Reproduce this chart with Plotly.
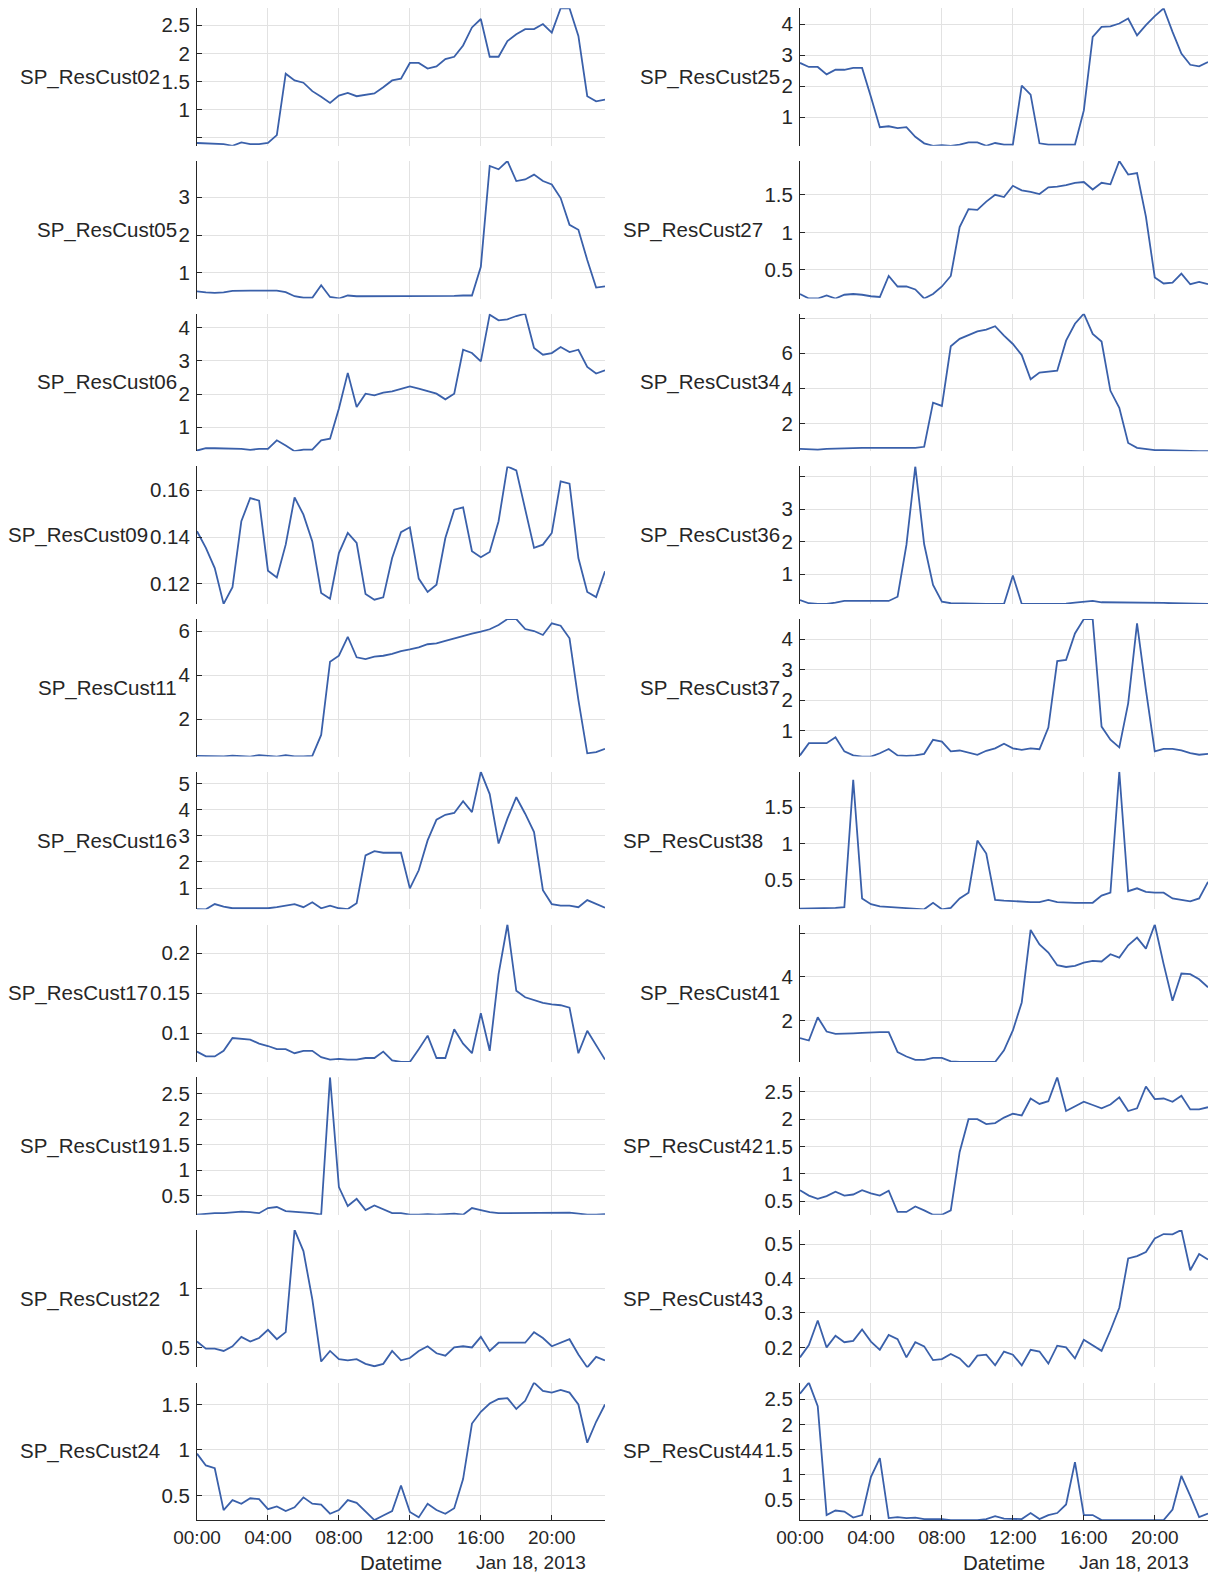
import pandas as pd
import plotly.graph_objects as go

# ---------------- data ----------------
DATE = "2013-01-18"
N_POINTS = 47
times = pd.date_range(f"{DATE} 00:00", periods=N_POINTS, freq="30min")

XTICK_LABELS = ["00:00", "04:00", "08:00", "12:00", "16:00", "20:00"]
X_TITLE = "Datetime"
DATE_LABEL = "Jan 18, 2013"

SP_ResCust02 = [0.41, 0.40, 0.40, 0.39, 0.36, 0.42, 0.39, 0.39, 0.41, 0.55,
                1.64, 1.52, 1.48, 1.33, 1.23, 1.12, 1.25, 1.30, 1.24, 1.27,
                1.29, 1.40, 1.52, 1.55, 1.83, 1.83, 1.73, 1.77, 1.90, 1.94,
                2.14, 2.46, 2.61, 1.94, 1.94, 2.22, 2.34, 2.43, 2.43, 2.52,
                2.37, 2.80, 2.80, 2.31, 1.24, 1.15, 1.18]
SP_ResCust05 = [0.51, 0.48, 0.47, 0.48, 0.52, 0.53, 0.53, 0.53, 0.53, 0.53,
                0.49, 0.38, 0.34, 0.34, 0.67, 0.36, 0.32, 0.40, 0.38, 0.38,
                0.37, 0.37, 0.37, 0.37, 0.37, 0.37, 0.37, 0.38, 0.38, 0.39,
                0.40, 0.40, 1.16, 3.83, 3.74, 3.96, 3.43, 3.47, 3.60, 3.43,
                3.34, 2.98, 2.27, 2.14, 1.34, 0.61, 0.64]
SP_ResCust06 = [0.29, 0.36, 0.36, 0.35, 0.36, 0.34, 0.31, 0.34, 0.34, 0.60,
                0.44, 0.27, 0.32, 0.32, 0.60, 0.65, 1.56, 2.64, 1.61, 2.01,
                1.96, 2.04, 2.08, 2.16, 2.23, 2.16, 2.08, 2.01, 1.84, 2.01,
                3.34, 3.24, 2.99, 4.40, 4.23, 4.26, 4.36, 4.43, 3.39, 3.19,
                3.24, 3.42, 3.27, 3.34, 2.82, 2.62, 2.72]
SP_ResCust09 = [0.1425, 0.1354, 0.1268, 0.1115, 0.1186, 0.1468, 0.1567, 0.1556, 0.1257, 0.1228,
                0.1368, 0.1570, 0.1496, 0.1382, 0.1162, 0.1137, 0.1332, 0.1418, 0.1375, 0.1157,
                0.1133, 0.1143, 0.1311, 0.1421, 0.1442, 0.1223, 0.1166, 0.1197, 0.1396, 0.1517,
                0.1527, 0.1340, 0.1314, 0.1337, 0.1468, 0.1702, 0.1685, 0.1522, 0.1354, 0.1368,
                0.1418, 0.1638, 0.1628, 0.1311, 0.1166, 0.1144, 0.1254]
SP_ResCust11 = [0.34, 0.34, 0.31, 0.32, 0.35, 0.34, 0.31, 0.38, 0.34, 0.31,
                0.38, 0.32, 0.32, 0.34, 1.29, 4.61, 4.88, 5.74, 4.81, 4.73,
                4.84, 4.88, 4.96, 5.09, 5.17, 5.26, 5.40, 5.44, 5.55, 5.67,
                5.79, 5.88, 5.97, 6.08, 6.27, 6.54, 6.54, 6.09, 6.00, 5.82,
                6.35, 6.24, 5.67, 2.88, 0.46, 0.51, 0.66]
SP_ResCust16 = [0.20, 0.19, 0.39, 0.29, 0.23, 0.23, 0.23, 0.23, 0.23, 0.27,
                0.32, 0.39, 0.27, 0.46, 0.23, 0.33, 0.23, 0.20, 0.42, 2.25,
                2.41, 2.35, 2.35, 2.35, 0.99, 1.68, 2.82, 3.61, 3.80, 3.87,
                4.32, 3.90, 5.44, 4.59, 2.70, 3.65, 4.47, 3.84, 3.14, 0.92,
                0.39, 0.33, 0.33, 0.27, 0.54, 0.39, 0.25]
SP_ResCust17 = [0.077, 0.071, 0.071, 0.078, 0.094, 0.093, 0.092, 0.087, 0.084, 0.080,
                0.080, 0.075, 0.078, 0.078, 0.070, 0.067, 0.068, 0.067, 0.067, 0.069,
                0.069, 0.077, 0.066, 0.064, 0.064, 0.080, 0.097, 0.069, 0.069, 0.105,
                0.087, 0.075, 0.125, 0.078, 0.174, 0.236, 0.153, 0.145, 0.141, 0.138,
                0.136, 0.135, 0.132, 0.075, 0.103, 0.085, 0.067]
SP_ResCust19 = [0.13, 0.15, 0.16, 0.16, 0.18, 0.19, 0.18, 0.16, 0.26, 0.28,
                0.20, 0.19, 0.18, 0.16, 0.13, 2.82, 0.67, 0.30, 0.44, 0.22,
                0.31, 0.23, 0.16, 0.16, 0.13, 0.13, 0.14, 0.13, 0.14, 0.15,
                0.13, 0.26, 0.22, 0.18, 0.16, 0.16, 0.17, 0.17, 0.16, 0.16,
                0.16, 0.16, 0.17, 0.15, 0.13, 0.13, 0.14]
SP_ResCust22 = [0.55, 0.49, 0.49, 0.47, 0.51, 0.59, 0.55, 0.58, 0.65, 0.57,
                0.63, 1.50, 1.32, 0.91, 0.38, 0.47, 0.40, 0.39, 0.40, 0.36,
                0.34, 0.36, 0.47, 0.39, 0.41, 0.47, 0.51, 0.45, 0.43, 0.50,
                0.51, 0.50, 0.59, 0.47, 0.54, 0.54, 0.54, 0.54, 0.63, 0.58,
                0.51, 0.54, 0.57, 0.44, 0.33, 0.42, 0.39]
SP_ResCust24 = [0.96, 0.83, 0.80, 0.34, 0.45, 0.41, 0.47, 0.46, 0.35, 0.38,
                0.33, 0.37, 0.48, 0.41, 0.40, 0.30, 0.34, 0.45, 0.42, 0.32,
                0.23, 0.28, 0.33, 0.61, 0.32, 0.26, 0.41, 0.34, 0.30, 0.36,
                0.68, 1.29, 1.42, 1.51, 1.56, 1.57, 1.45, 1.54, 1.74, 1.65,
                1.63, 1.66, 1.63, 1.50, 1.08, 1.31, 1.50]
SP_ResCust25 = [2.75, 2.62, 2.62, 2.38, 2.53, 2.53, 2.59, 2.59, 1.65, 0.68,
                0.71, 0.65, 0.68, 0.37, 0.16, 0.08, 0.10, 0.08, 0.12, 0.19,
                0.19, 0.08, 0.17, 0.12, 0.12, 2.02, 1.73, 0.16, 0.12, 0.12,
                0.12, 0.12, 1.22, 3.59, 3.91, 3.93, 4.02, 4.18, 3.64, 3.97,
                4.26, 4.51, 3.75, 3.05, 2.69, 2.64, 2.78]
SP_ResCust27 = [0.18, 0.12, 0.12, 0.16, 0.12, 0.17, 0.18, 0.17, 0.15, 0.14,
                0.42, 0.28, 0.28, 0.24, 0.12, 0.18, 0.28, 0.42, 1.07, 1.31,
                1.30, 1.41, 1.50, 1.47, 1.62, 1.56, 1.54, 1.51, 1.60, 1.61,
                1.63, 1.66, 1.67, 1.57, 1.66, 1.64, 1.95, 1.77, 1.79, 1.21,
                0.40, 0.32, 0.33, 0.45, 0.31, 0.34, 0.31]
SP_ResCust34 = [0.57, 0.53, 0.53, 0.57, 0.59, 0.63, 0.63, 0.63, 0.63, 0.63,
                0.63, 0.63, 0.63, 0.63, 0.69, 3.20, 3.01, 6.40, 6.82, 7.05,
                7.24, 7.35, 7.54, 7.01, 6.53, 5.90, 4.53, 4.91, 4.95, 5.01,
                6.72, 7.68, 8.25, 7.10, 6.67, 3.87, 2.91, 0.91, 0.63, 0.57,
                0.50, 0.50, 0.48, 0.44, 0.44, 0.44, 0.44]
SP_ResCust36 = [0.21, 0.11, 0.09, 0.09, 0.13, 0.18, 0.18, 0.18, 0.19, 0.18,
                0.18, 0.31, 1.90, 4.31, 1.92, 0.67, 0.16, 0.11, 0.10, 0.10,
                0.09, 0.09, 0.09, 0.09, 0.96, 0.09, 0.09, 0.09, 0.09, 0.10,
                0.10, 0.13, 0.16, 0.18, 0.14, 0.14, 0.13, 0.13, 0.13, 0.12,
                0.12, 0.12, 0.11, 0.11, 0.10, 0.10, 0.09]
SP_ResCust37 = [0.20, 0.60, 0.60, 0.60, 0.79, 0.33, 0.20, 0.16, 0.16, 0.27,
                0.41, 0.20, 0.18, 0.20, 0.25, 0.71, 0.65, 0.33, 0.36, 0.30,
                0.22, 0.35, 0.43, 0.58, 0.43, 0.38, 0.43, 0.40, 1.11, 3.28,
                3.32, 4.18, 4.65, 4.65, 1.14, 0.71, 0.46, 1.90, 4.51, 2.34,
                0.33, 0.41, 0.41, 0.36, 0.27, 0.22, 0.25]
SP_ResCust38 = [0.10, 0.10, 0.10, 0.10, 0.11, 0.12, 1.88, 0.24, 0.16, 0.13,
                0.12, 0.11, 0.11, 0.10, 0.09, 0.18, 0.09, 0.11, 0.24, 0.32,
                1.04, 0.86, 0.22, 0.21, 0.20, 0.19, 0.19, 0.19, 0.22, 0.19,
                0.18, 0.18, 0.18, 0.18, 0.28, 0.32, 1.99, 0.34, 0.38, 0.33,
                0.32, 0.32, 0.24, 0.22, 0.20, 0.24, 0.47]
SP_ResCust41 = [1.20, 1.09, 2.15, 1.50, 1.39, 1.39, 1.42, 1.44, 1.47, 1.47,
                1.47, 0.56, 0.36, 0.21, 0.21, 0.30, 0.30, 0.14, 0.11, 0.11,
                0.11, 0.11, 0.11, 0.64, 1.55, 2.83, 6.14, 5.48, 5.11, 4.53,
                4.45, 4.50, 4.65, 4.73, 4.70, 5.03, 4.88, 5.44, 5.79, 5.29,
                6.39, 4.58, 2.91, 4.15, 4.12, 3.89, 3.52]
SP_ResCust42 = [0.70, 0.60, 0.54, 0.59, 0.67, 0.60, 0.62, 0.70, 0.64, 0.60,
                0.69, 0.30, 0.30, 0.40, 0.33, 0.25, 0.25, 0.33, 1.40, 2.00,
                2.00, 1.91, 1.93, 2.03, 2.10, 2.07, 2.38, 2.28, 2.33, 2.77,
                2.15, 2.24, 2.32, 2.26, 2.20, 2.27, 2.40, 2.15, 2.20, 2.60,
                2.37, 2.38, 2.32, 2.43, 2.18, 2.18, 2.22]
SP_ResCust43 = [0.171, 0.207, 0.278, 0.200, 0.234, 0.215, 0.219, 0.252, 0.217, 0.193,
                0.236, 0.224, 0.171, 0.215, 0.203, 0.163, 0.166, 0.181, 0.168, 0.142,
                0.176, 0.179, 0.148, 0.188, 0.179, 0.148, 0.193, 0.188, 0.153, 0.205,
                0.200, 0.168, 0.222, 0.205, 0.190, 0.249, 0.315, 0.458, 0.465, 0.477,
                0.516, 0.529, 0.528, 0.541, 0.424, 0.471, 0.455]
SP_ResCust44 = [2.61, 2.83, 2.36, 0.20, 0.29, 0.27, 0.15, 0.20, 0.96, 1.33,
                0.14, 0.16, 0.14, 0.15, 0.12, 0.12, 0.12, 0.10, 0.10, 0.10,
                0.10, 0.12, 0.18, 0.13, 0.12, 0.12, 0.24, 0.12, 0.20, 0.24,
                0.41, 1.25, 0.20, 0.20, 0.10, 0.10, 0.10, 0.10, 0.10, 0.10,
                0.10, 0.10, 0.31, 0.98, 0.58, 0.16, 0.23]

# y tick values per panel, and the ticks drawn without a label
YTICKS_02 = [0.5, 1, 1.5, 2, 2.5]; HIDE_02 = [0.5]
YTICKS_05 = [1, 2, 3]
YTICKS_06 = [1, 2, 3, 4]
YTICKS_09 = [0.12, 0.14, 0.16]
YTICKS_11 = [2, 4, 6]
YTICKS_16 = [1, 2, 3, 4, 5]
YTICKS_17 = [0.1, 0.15, 0.2]
YTICKS_19 = [0.5, 1, 1.5, 2, 2.5]
YTICKS_22 = [0.5, 1]
YTICKS_24 = [0.5, 1, 1.5]
YTICKS_25 = [1, 2, 3, 4]
YTICKS_27 = [0.5, 1, 1.5]
YTICKS_34 = [2, 4, 6, 8]; HIDE_34 = [8]
YTICKS_36 = [1, 2, 3, 4]; HIDE_36 = [4]
YTICKS_37 = [1, 2, 3, 4]
YTICKS_38 = [0.5, 1, 1.5]
YTICKS_41 = [2, 4, 6]; HIDE_41 = [6]
YTICKS_42 = [0.5, 1, 1.5, 2, 2.5]
YTICKS_43 = [0.2, 0.3, 0.4, 0.5]
YTICKS_44 = [0.5, 1, 1.5, 2, 2.5]

LEFT_PANELS = [
    ("SP_ResCust02", SP_ResCust02, YTICKS_02, HIDE_02),
    ("SP_ResCust05", SP_ResCust05, YTICKS_05, []),
    ("SP_ResCust06", SP_ResCust06, YTICKS_06, []),
    ("SP_ResCust09", SP_ResCust09, YTICKS_09, []),
    ("SP_ResCust11", SP_ResCust11, YTICKS_11, []),
    ("SP_ResCust16", SP_ResCust16, YTICKS_16, []),
    ("SP_ResCust17", SP_ResCust17, YTICKS_17, []),
    ("SP_ResCust19", SP_ResCust19, YTICKS_19, []),
    ("SP_ResCust22", SP_ResCust22, YTICKS_22, []),
    ("SP_ResCust24", SP_ResCust24, YTICKS_24, []),
]
RIGHT_PANELS = [
    ("SP_ResCust25", SP_ResCust25, YTICKS_25, []),
    ("SP_ResCust27", SP_ResCust27, YTICKS_27, []),
    ("SP_ResCust34", SP_ResCust34, YTICKS_34, HIDE_34),
    ("SP_ResCust36", SP_ResCust36, YTICKS_36, HIDE_36),
    ("SP_ResCust37", SP_ResCust37, YTICKS_37, []),
    ("SP_ResCust38", SP_ResCust38, YTICKS_38, []),
    ("SP_ResCust41", SP_ResCust41, YTICKS_41, HIDE_41),
    ("SP_ResCust42", SP_ResCust42, YTICKS_42, []),
    ("SP_ResCust43", SP_ResCust43, YTICKS_43, []),
    ("SP_ResCust44", SP_ResCust44, YTICKS_44, []),
]

# ---------------- style / geometry ----------------
W, H = 1212, 1575
COL_X = [(197, 605), (800, 1208)]
ROW_TOP0, ROW_PITCH, ROW_H = 8.3, 152.7, 137.5
LINE_COLOR = "#3a60aa"
GRID_COLOR = "#e2e2e2"
AXIS_COLOR = "#262626"
TEXT_COLOR = "#262626"
FONT = "Liberation Sans, Arial, Helvetica, sans-serif"
FS_Y = 20.5
FS_X = 19
TICK_GAP = 6  # px between axis line and right edge of y tick labels

CHAR_W = {".": 0.278, "-": 0.333}


def text_width(s, fs):
    return sum(CHAR_W.get(ch, 0.556) for ch in s) * fs


def fmt(v):
    return f"{v:g}"


xtickvals = [f"{DATE} {lbl}" for lbl in XTICK_LABELS]

fig = go.Figure()
layout = {}
annotations = []

for c, panels in enumerate([LEFT_PANELS, RIGHT_PANELS]):
    x0, x1 = COL_X[c]
    for r, (name, vals, yt, hidden) in enumerate(panels):
        idx = c * len(LEFT_PANELS) + r + 1
        sfx = "" if idx == 1 else str(idx)
        top = ROW_TOP0 + r * ROW_PITCH
        bot = top + ROW_H
        bottom_row = r == len(panels) - 1

        fig.add_trace(go.Scatter(
            x=times, y=vals, mode="lines",
            line=dict(color=LINE_COLOR, width=1.8),
            xaxis="x" + sfx, yaxis="y" + sfx,
            showlegend=False, hoverinfo="skip",
        ))

        ytext = ["" if v in hidden else fmt(v) for v in yt]
        layout["xaxis" + sfx] = dict(
            domain=[x0 / W, x1 / W], anchor="y" + sfx,
            type="date", range=[times[0], times[-1]],
            tickmode="array", tickvals=xtickvals, ticktext=XTICK_LABELS,
            showgrid=True, gridcolor=GRID_COLOR, gridwidth=1,
            zeroline=False, automargin=False,
            showline=bottom_row, linecolor=AXIS_COLOR, linewidth=1,
            ticks="inside" if bottom_row else "", ticklen=5, tickcolor=AXIS_COLOR,
            showticklabels=bottom_row,
            ticklabelstandoff=0,
            tickfont=dict(family=FONT, size=FS_X, color=TEXT_COLOR),
        )
        layout["yaxis" + sfx] = dict(
            domain=[1 - bot / H, 1 - top / H], anchor="x" + sfx,
            range=[min(vals), max(vals)],
            tickmode="array", tickvals=yt, ticktext=ytext,
            showgrid=True, gridcolor=GRID_COLOR, gridwidth=1,
            zeroline=False, automargin=False,
            showline=True, linecolor=AXIS_COLOR, linewidth=1,
            ticks="inside", ticklen=5, tickcolor=AXIS_COLOR,
            ticklabelstandoff=2,
            tickfont=dict(family=FONT, size=FS_Y, color=TEXT_COLOR),
        )

        tw = max(text_width(t, FS_Y) for t in ytext if t)
        annotations.append(dict(
            text=name, xref="paper", yref="paper",
            x=x0 / W, y=1 - (top + bot) / 2 / H,
            xanchor="right", yanchor="middle",
            xshift=-(TICK_GAP + tw + 1), showarrow=False,
            font=dict(family=FONT, size=FS_Y, color=TEXT_COLOR),
        ))

    # bottom x labels
    annotations.append(dict(
        text=X_TITLE, xref="paper", yref="paper",
        x=(x0 + x1) / 2 / W, y=1 - 1562 / H,
        xanchor="center", yanchor="middle", showarrow=False,
        font=dict(family=FONT, size=FS_Y, color=TEXT_COLOR),
    ))
    annotations.append(dict(
        text=DATE_LABEL, xref="paper", yref="paper",
        x=(x1 - 17) / W, y=1 - 1562 / H,
        xanchor="right", yanchor="middle", showarrow=False,
        font=dict(family=FONT, size=FS_X, color=TEXT_COLOR),
    ))

fig.update_layout(
    width=W, height=H,
    margin=dict(l=0, r=0, t=0, b=0, autoexpand=False),
    paper_bgcolor="white", plot_bgcolor="white",
    showlegend=False,
    annotations=annotations,
    **layout,
)

fig.write_html("out.html")
